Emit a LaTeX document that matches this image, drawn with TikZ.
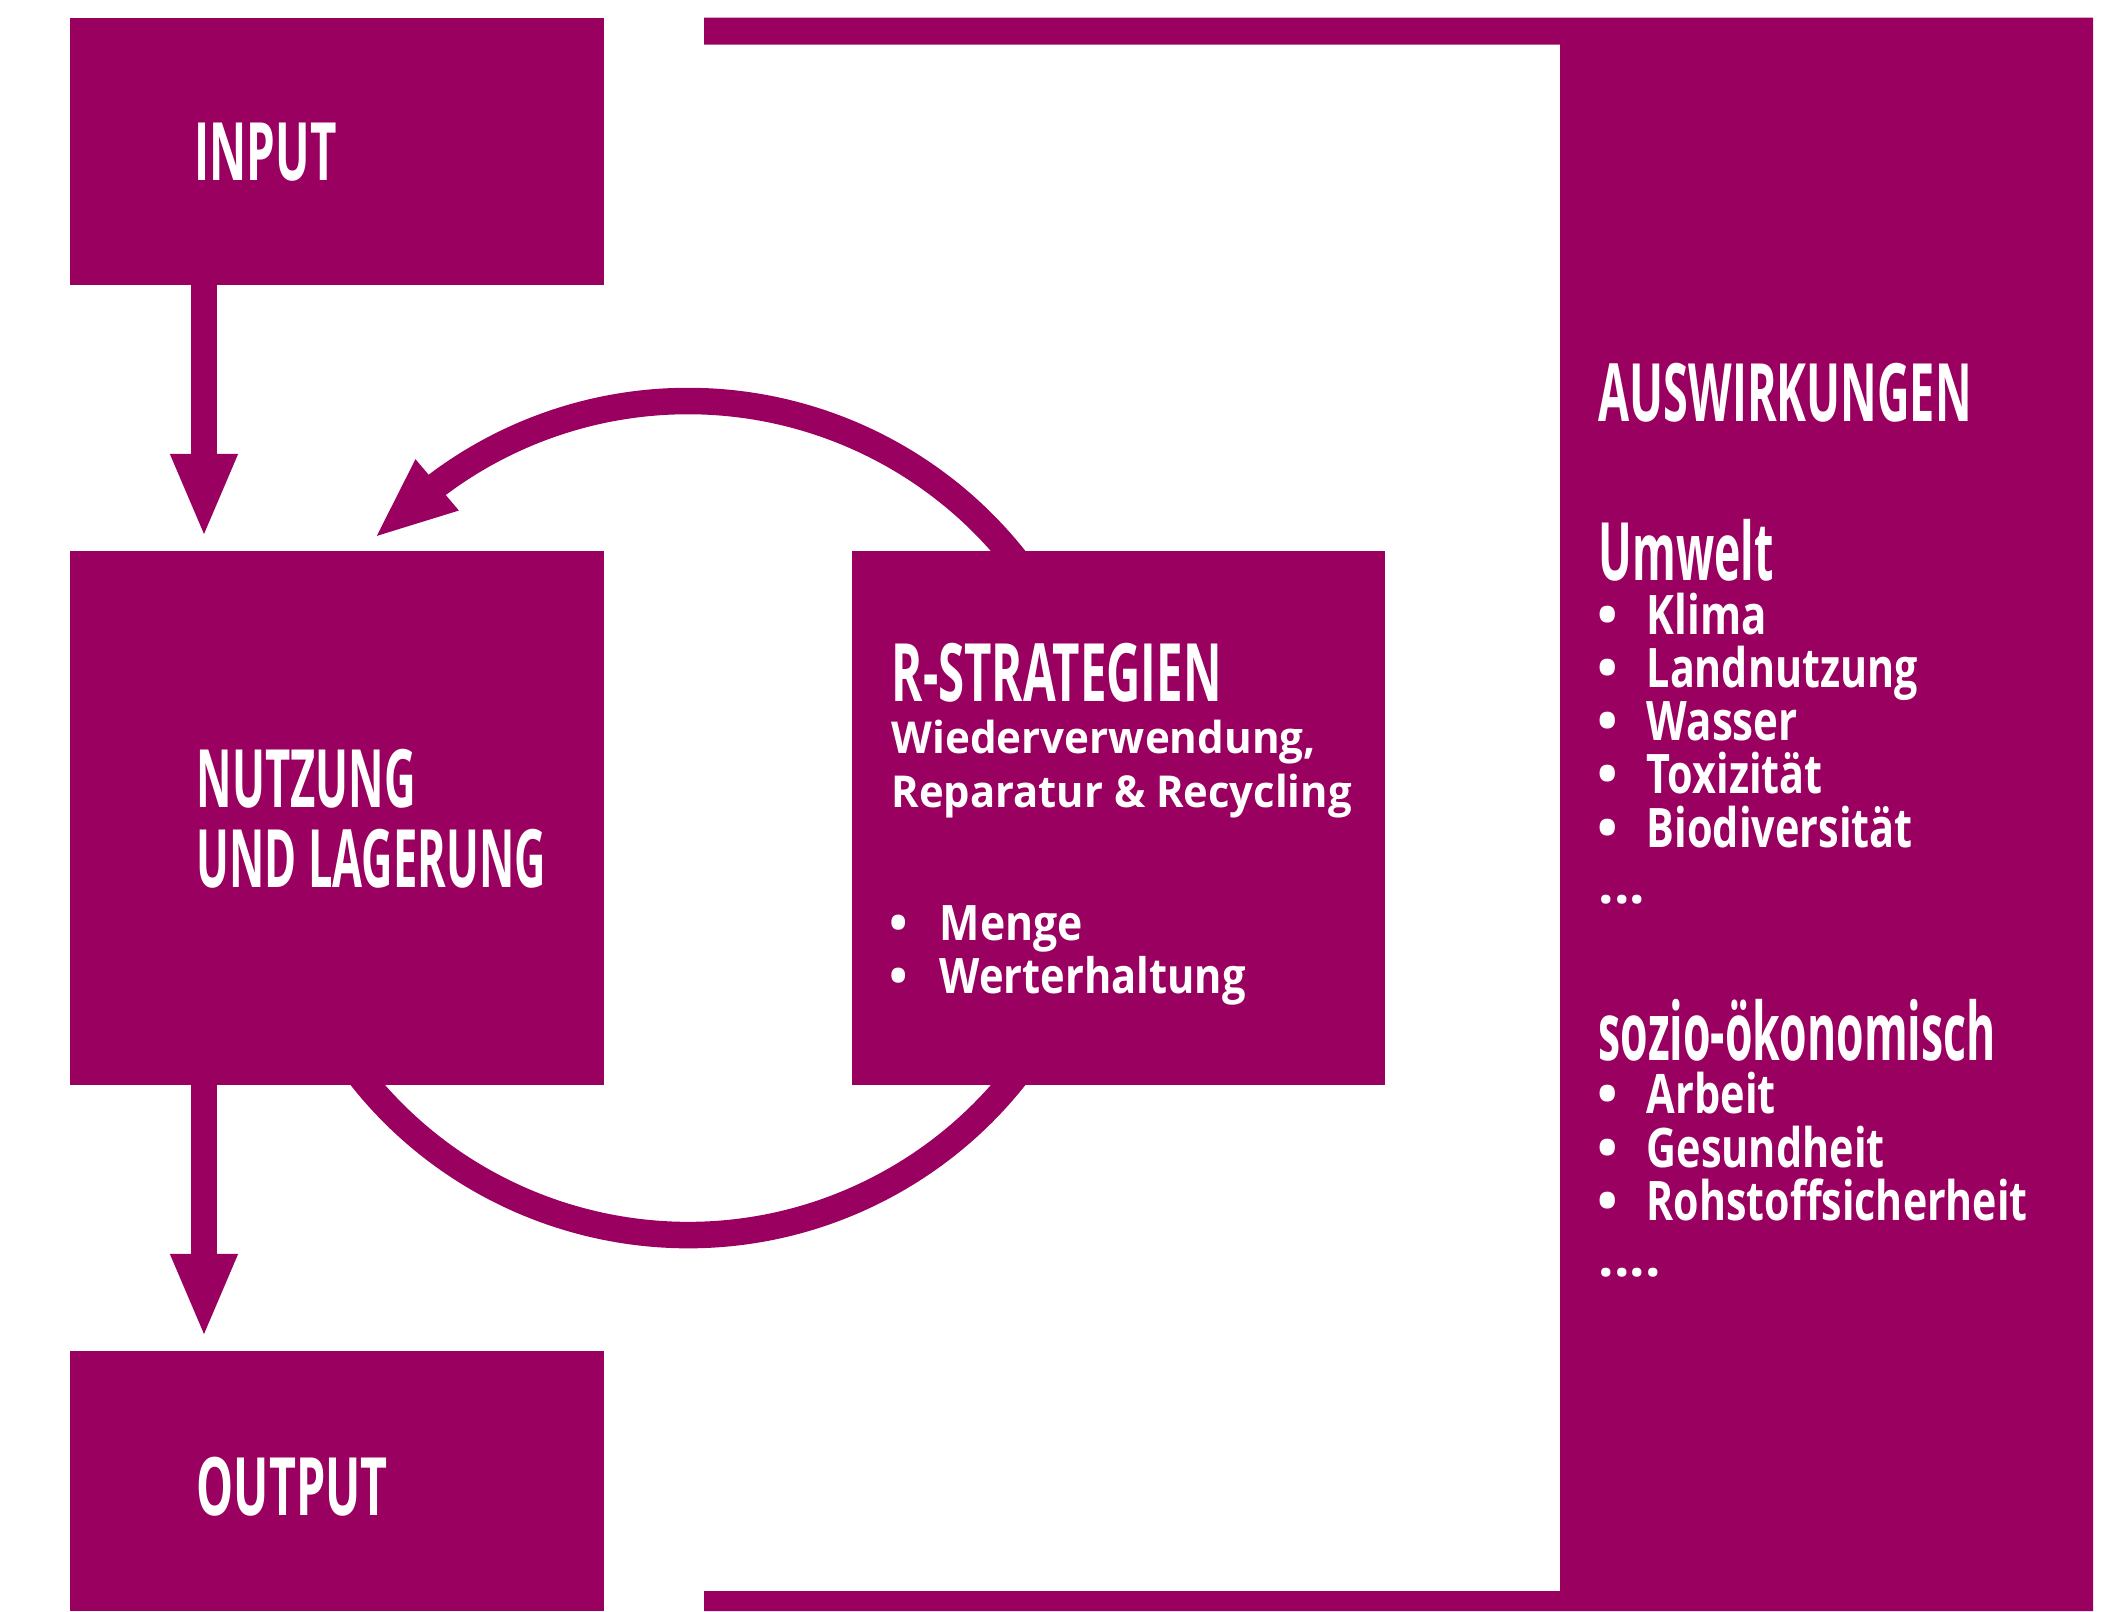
\documentclass[tikz,border=0pt]{standalone}
\usepackage{fontspec}
\setmainfont{Open Sans}
\usepackage{graphicx}
\usetikzlibrary{arrows.meta,calc}
\definecolor{mag}{RGB}{153,0,96}
\newlength\px \setlength\px{0.01cm}
\newcommand\fitw[2]{\resizebox{#1\px}{\height}{#2}}
\newcommand\hd{\fontsize{22.9pt}{27pt}\selectfont\bfseries}
\newcommand\bdR{\fontsize{15.5pt}{18pt}\selectfont\bfseries}
\newcommand\bdA{\fontsize{12.5pt}{15pt}\selectfont\bfseries}
\newcommand\bdB{\fontsize{13.9pt}{16pt}\selectfont\bfseries}
\tikzset{
  box/.style={fill=mag, inner sep=0, outer sep=0},
  txt/.style={text=white, inner sep=0, anchor=base west},
  flow/.style={draw=mag, line width=0.265cm, -{Triangle[width=0.61cm,length=0.84cm]}},
  loopline/.style={draw=mag, line width=0.265cm},
  looparrow/.style={draw=mag, line width=0.265cm, -{Triangle[width=0.60cm,length=0.83cm]}}
}
\begin{document}
\begin{tikzpicture}[x=0.01cm,y=-0.01cm]
\useasboundingbox (0,0) rectangle (2118,1611);
% loop
\coordinate (C) at (688,818);
\draw[loopline] ($(C)+(150:417)$) arc[start angle=150, end angle=30, radius=417];
\draw[looparrow] ($(C)+(-30:417)$) arc[start angle=-30, end angle=-127, radius=417] -- ++(-63.3,53.5);
% frame of impacts
\fill[mag] (704,17.6) -- (2093,17.6) -- (2093,1611) -- (704,1611) -- (704,1591) -- (1560,1591) -- (1560,44.6) -- (704,44.6) -- cycle;
\node[box, minimum width=533\px, minimum height=1593.4\px] (ausw) at (1826.5,814.3) {};
% boxes
\node[box, minimum width=534\px, minimum height=267.4\px] (input) at (337,151.3) {};
\node[box, minimum width=534\px, minimum height=534\px] (nutz) at (337,818) {};
\node[box, minimum width=534\px, minimum height=260\px] (output) at (337,1481) {};
\node[box, minimum width=533\px, minimum height=534\px] (rstrat) at (1118.5,818) {};
% straight arrows
\coordinate (ax) at (204,0);
\draw[flow] (input.south -| ax) -- ($(nutz.north -| ax)+(0,-13)$);
\draw[flow] (nutz.south -| ax) -- ($(output.north -| ax)+(0,-13)$);
% headings
\node[txt] (tin) at (194,180) {\hd\fitw{142}{INPUT}};
\node[txt] (tnu1) at (196,807) {\hd\fitw{219}{NUTZUNG}};
\node[txt] (tnu2) at (196,887) {\hd\fitw{349}{UND LAGERUNG}};
\node[txt] (tout) at (196,1515) {\hd\fitw{191}{OUTPUT}};
\node[txt] (tau) at (1598,421) {\hd\fitw{373}{AUSWIRKUNGEN}};
\node[txt] (tr) at (891,701) {\hd\fitw{330}{R-STRATEGIEN}};
\node[txt] (tum) at (1598,580) {\hd\fitw{175}{Umwelt}};
\node[txt] (tso) at (1598,1060) {\hd\fitw{397}{sozio-ökonomisch}};
% R-strategies body
\node[txt] (tr1) at (891,753) {\bdA\fitw{424}{Wiederverwendung,}};
\node[txt] (tr2) at (891,807) {\bdA\fitw{460}{Reparatur \& Recycling}};
\node[txt] (tr3) at (889,940) {\bdB\makebox[50\px][l]{•}\fitw{143}{Menge}};
\node[txt] (tr4) at (889,993) {\bdB\makebox[50\px][l]{•}\fitw{306}{Werterhaltung}};
% impacts body
\node[txt] (u1) at (1596.5,634) {\bdR\makebox[49.5\px][l]{•}\fitw{120}{Klima}};
\node[txt] (u2) at (1596.5,687) {\bdR\makebox[49.5\px][l]{•}\fitw{271}{Landnutzung}};
\node[txt] (u3) at (1596.5,740) {\bdR\makebox[49.5\px][l]{•}\fitw{151}{Wasser}};
\node[txt] (u4) at (1596.5,793) {\bdR\makebox[49.5\px][l]{•}\fitw{176}{Toxizität}};
\node[txt] (u5) at (1596.5,847) {\bdR\makebox[49.5\px][l]{•}\fitw{266}{Biodiversität}};
\node[txt] (u6) at (1598,903) {\bdR ...};
\node[txt] (s1) at (1596.5,1113) {\bdR\makebox[49.5\px][l]{•}\fitw{129}{Arbeit}};
\node[txt] (s2) at (1596.5,1167) {\bdR\makebox[49.5\px][l]{•}\fitw{238}{Gesundheit}};
\node[txt] (s3) at (1596.5,1220) {\bdR\makebox[49.5\px][l]{•}\fitw{381}{Rohstoffsicherheit}};
\node[txt] (s4) at (1598,1276) {\bdR ....};
\end{tikzpicture}
\end{document}
